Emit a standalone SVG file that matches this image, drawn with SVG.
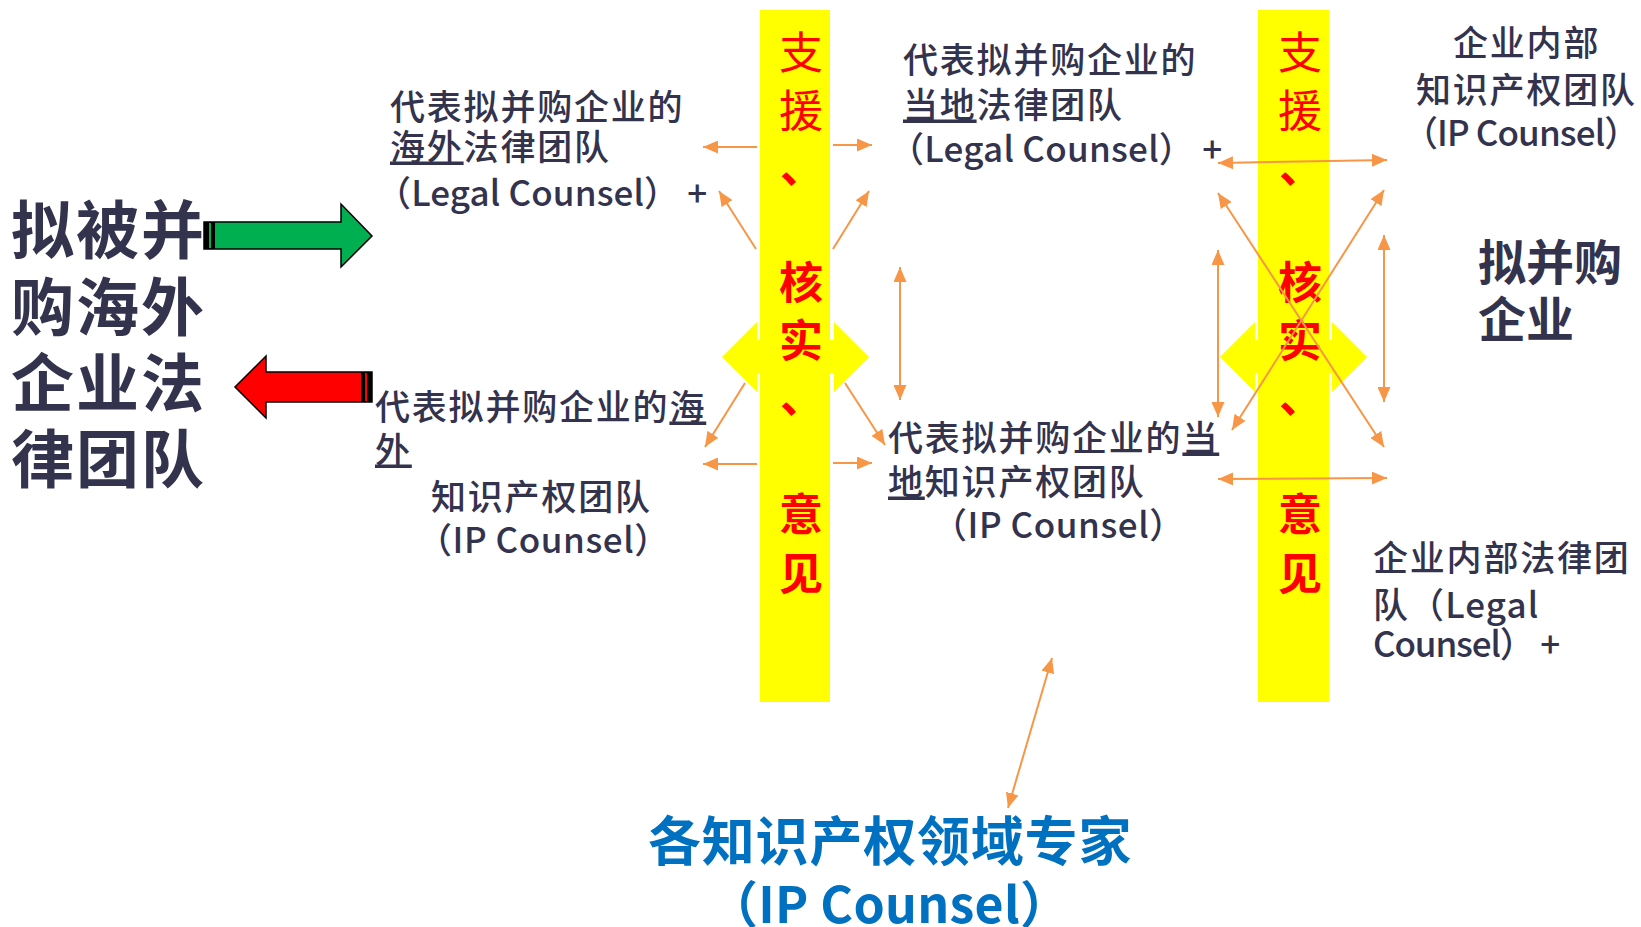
<svg xmlns="http://www.w3.org/2000/svg" width="1641" height="927" viewBox="0 0 1641 927">
<defs>
<style>
text { font-family: 'Noto Sans CJK SC', 'Noto Sans', sans-serif; }
.t { fill: #33334D; font-size: 35px; font-weight: 500; letter-spacing: 1.8px; }
.big { fill: #33334D; font-size: 63px; font-weight: 700; letter-spacing: 2px; }
.mid { fill: #33334D; font-size: 48px; font-weight: 700; }
.u { text-decoration: underline; }
.rd { fill: #FF0000; font-size: 44px; text-anchor: middle; }
.rb { fill: #FF0000; font-size: 44px; font-weight: 700; text-anchor: middle; }
.rp { fill: #FF0000; font-size: 44px; font-weight: 700; }
.bl { fill: #0070C0; font-weight: 700; }
.bar { fill: #FFFF00; }
.c { stroke: #F79646; stroke-width: 2; fill: none; marker-end: url(#ah); }
.d { stroke: #F79646; stroke-width: 2; fill: none; marker-start: url(#ah); marker-end: url(#ah); }
.blk { stroke: #000; stroke-width: 1.5; }
</style>
<marker id="ah" markerUnits="userSpaceOnUse" markerWidth="15" markerHeight="13" refX="15" refY="6.5" orient="auto-start-reverse" viewBox="0 0 15 13">
<path d="M0,0 L15,6.5 L0,13 z" fill="#F79646"/>
</marker>
</defs>
<rect width="1641" height="927" fill="#FFFFFF"/>

<g id="node-target-overseas-legal">
<text class="big" x="11" y="253">拟被并</text>
<text class="big" x="11" y="330">购海外</text>
<text class="big" x="11" y="406">企业法</text>
<text class="big" x="11" y="482">律团队</text>
</g>

<g id="node-overseas-legal">
<text class="t" x="390" y="119.5">代表拟并购企业的</text>
<text class="t" x="390" y="159.5"><tspan class="u">海外</tspan>法律团队</text>
<text class="t" x="376" y="206" textLength="333" lengthAdjust="spacing">（Legal Counsel） +</text>
</g>

<g id="node-overseas-ip">
<text class="t" x="375" y="419.5">代表拟并购企业的<tspan class="u">海</tspan></text>
<text class="t" x="375" y="462.5"><tspan class="u">外</tspan></text>
<text class="t" x="431" y="509.5">知识产权团队</text>
<text class="t" x="417" y="553" textLength="254" lengthAdjust="spacing">（IP Counsel）</text>
</g>

<g id="node-support-bar-1">
<path class="bar" d="M722,357 L757,322 L757,340 L834,340 L834,322 L869,357 L834,392 L834,373 L757,373 L757,392 Z"/>
<rect class="bar" x="760" y="10" width="70" height="692"/>
<text class="rd" x="801" y="69">支</text>
<text class="rd" x="801" y="127">援</text>
<text class="rp" x="780" y="183">、</text>
<text class="rb" x="801" y="299">核</text>
<text class="rb" x="801" y="357">实</text>
<text class="rp" x="780" y="413">、</text>
<text class="rb" x="801" y="531">意</text>
<text class="rb" x="801" y="590">见</text>
</g>

<g id="node-local-legal">
<text class="t" x="903" y="72.5">代表拟并购企业的</text>
<text class="t" x="903" y="117.5"><tspan class="u">当地</tspan>法律团队</text>
<text class="t" x="889" y="162" textLength="335" lengthAdjust="spacing">（Legal Counsel） +</text>
</g>

<g id="node-local-ip">
<text class="t" x="888" y="450.5">代表拟并购企业的<tspan class="u">当</tspan></text>
<text class="t" x="888" y="494.5"><tspan class="u">地</tspan>知识产权团队</text>
<text class="t" x="932" y="538" textLength="254" lengthAdjust="spacing">（IP Counsel）</text>
</g>

<g id="node-support-bar-2">
<path class="bar" d="M1220,357 L1255,322 L1255,340 L1332,340 L1332,322 L1367,357 L1332,392 L1332,373 L1255,373 L1255,392 Z"/>
<rect class="bar" x="1258" y="10" width="71" height="692"/>
<text class="rd" x="1300" y="69">支</text>
<text class="rd" x="1300" y="127">援</text>
<text class="rp" x="1279" y="183">、</text>
<text class="rb" x="1300" y="299">核</text>
<text class="rb" x="1300" y="357">实</text>
<text class="rp" x="1279" y="413">、</text>
<text class="rb" x="1300" y="531">意</text>
<text class="rb" x="1300" y="590">见</text>
</g>

<g id="node-inhouse-ip">
<text class="t" x="1453" y="55.5">企业内部</text>
<text class="t" x="1416" y="102.5">知识产权团队</text>
<text class="t" x="1403" y="146" textLength="238" lengthAdjust="spacing">（IP Counsel）</text>
</g>

<g id="node-acquirer">
<text class="mid" x="1478" y="280">拟并购</text>
<text class="mid" x="1478" y="337">企业</text>
</g>

<g id="node-inhouse-legal">
<text class="t" x="1373" y="570.5">企业内部法律团</text>
<text class="t" x="1373" y="617.5" textLength="167" lengthAdjust="spacing">队（Legal</text>
<text class="t" x="1373" y="657" textLength="189" lengthAdjust="spacing">Counsel） +</text>
</g>

<g id="node-ip-experts">
<text class="bl" x="648" y="861" font-size="53" letter-spacing="0.8">各知识产权领域专家</text>
<text class="bl" x="708" y="923" font-size="50" textLength="362" lengthAdjust="spacing">（IP Counsel）</text>
</g>

<g id="connectors">
<path class="blk" d="M204,222 L341,222 L341,204 L372,236 L341,267 L341,249 L204,249 Z" fill="#00B050"/>
<rect x="204" y="222" width="11" height="27" fill="#000"/>
<rect x="209" y="223" width="2" height="25" fill="#00B050"/>
<path class="blk" d="M372,372 L266,372 L266,356 L235,387 L266,418 L266,402 L372,402 Z" fill="#FF0000"/>
<rect x="361" y="372" width="11" height="30" fill="#000"/>
<rect x="365" y="373" width="2" height="28" fill="#FF0000"/>

<line class="c" x1="757" y1="147" x2="703" y2="147"/>
<line class="c" x1="833" y1="145" x2="872" y2="145"/>
<line class="c" x1="756" y1="249" x2="719" y2="191"/>
<line class="c" x1="833" y1="249" x2="869" y2="191"/>
<line class="c" x1="745" y1="383" x2="705" y2="447"/>
<line class="c" x1="845" y1="383" x2="885" y2="445"/>
<line class="c" x1="757" y1="464" x2="703" y2="464"/>
<line class="c" x1="833" y1="463" x2="872" y2="463"/>
<line class="d" x1="900" y1="267" x2="900" y2="400"/>
<line class="d" x1="1218" y1="163" x2="1387" y2="160"/>
<line class="d" x1="1218" y1="193" x2="1384" y2="447"/>
<line class="d" x1="1384" y1="190" x2="1232" y2="430"/>
<line class="d" x1="1218" y1="250" x2="1218" y2="417"/>
<line class="d" x1="1384" y1="235" x2="1384" y2="402"/>
<line class="d" x1="1218" y1="479" x2="1387" y2="478"/>
<line class="d" x1="1052" y1="658" x2="1008" y2="808"/>
</g>
</svg>
